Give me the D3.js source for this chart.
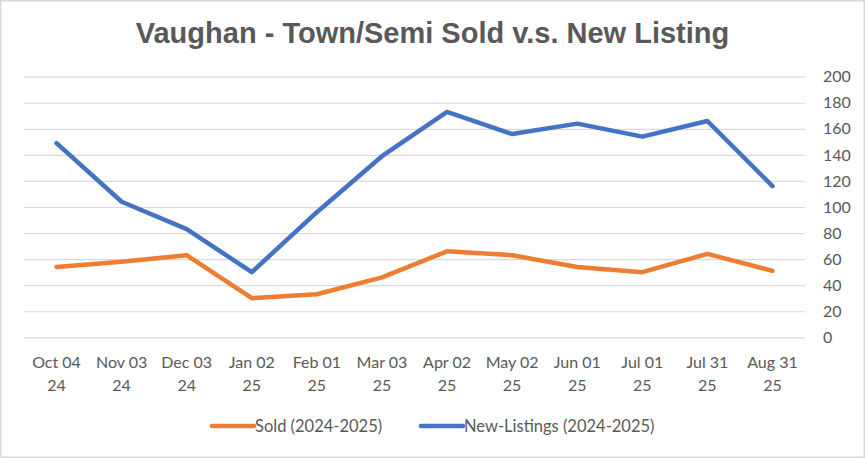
<!DOCTYPE html>
<html>
<head>
<meta charset="utf-8">
<script src="https://cdn.jsdelivr.net/npm/d3@7"></script>
<style>
  html, body { margin: 0; padding: 0; background: #fff; }
  svg { display: block; }
</style>
</head>
<body>
<svg id="chart" width="865" height="458"></svg>
<script>
// chart data
var categories = ["Oct 04\n24", "Nov 03\n24", "Dec 03\n24", "Jan 02\n25", "Feb 01\n25", "Mar 03\n25",
  "Apr 02\n25", "May 02\n25", "Jun 01\n25", "Jul 01\n25", "Jul 31\n25", "Aug 31\n25"];
var sold = [54, 58, 63, 30, 33, 46, 66, 63, 54, 50, 64, 51];
var newListings = [149, 104, 83, 50, 96, 139, 173, 156, 164, 154, 166, 116];
var yTicks = [0, 20, 40, 60, 80, 100, 120, 140, 160, 180, 200];
var seriesNames = ["Sold (2024-2025)", "New-Listings (2024-2025)"];

(function () {
  var W = 865, H = 458;
  var left = 24, right = 805, top = 76.7, bottom = 337.3;
  var grey = "#595959";
  var font = "Lato, 'Liberation Sans', Arial, sans-serif";

  var svg = d3.select("#chart");

  // outer frame
  svg.append("rect")
    .attr("x", 0.75).attr("y", 0.75)
    .attr("width", W - 1.5).attr("height", H - 1.5)
    .attr("fill", "#fff")
    .attr("stroke", "#d9d9d9")
    .attr("stroke-width", 1.5);

  var x = d3.scaleBand().domain(categories).range([left, right]);
  var y = d3.scaleLinear().domain([0, 200]).range([bottom, top]);
  var cx = function (d) { return x(d) + x.bandwidth() / 2; };

  // gridlines
  svg.append("g")
    .attr("transform", "translate(" + left + ",0)")
    .call(d3.axisLeft(y).tickValues(yTicks).tickSize(-(right - left)).tickFormat(""))
    .call(function (g) {
      g.select(".domain").remove();
      g.selectAll("line").attr("stroke", "#d9d9d9").attr("stroke-width", 1.2);
    });

  // y axis labels on the right
  svg.append("g")
    .attr("transform", "translate(" + (right + 18) + ",0)")
    .call(d3.axisRight(y).tickValues(yTicks).tickSize(0).tickPadding(0))
    .call(function (g) {
      g.select(".domain").remove();
      g.selectAll("text")
        .attr("fill", grey)
        .attr("font-family", font)
        .attr("font-size", 16)
        .attr("text-anchor", "start");
    });

  // x axis labels (two lines)
  var xl = svg.append("g").selectAll("text")
    .data(categories)
    .join("text")
    .attr("x", cx)
    .attr("y", 368)
    .attr("text-anchor", "middle")
    .attr("fill", grey)
    .attr("font-family", font)
    .attr("font-size", 16);
  xl.selectAll("tspan")
    .data(function (d) { return d.split("\n"); })
    .join("tspan")
    .attr("x", function () { return cx(d3.select(this.parentNode).datum()); })
    .attr("dy", function (d, i) { return i === 0 ? 0 : 23; })
    .text(function (d) { return d; });

  var line = d3.line()
    .x(function (d, i) { return cx(categories[i]); })
    .y(function (d) { return y(d); });

  var series = [
    { name: seriesNames[0], values: sold, color: "#ED7D31" },
    { name: seriesNames[1], values: newListings, color: "#4472C4" }
  ];

  svg.append("g").selectAll("path")
    .data(series)
    .join("path")
    .attr("d", function (s) { return line(s.values); })
    .attr("fill", "none")
    .attr("stroke", function (s) { return s.color; })
    .attr("stroke-width", 4.5)
    .attr("stroke-linejoin", "round")
    .attr("stroke-linecap", "round");

  // title
  svg.append("text")
    .attr("x", 432.5)
    .attr("y", 42.5)
    .attr("text-anchor", "middle")
    .attr("fill", grey)
    .attr("font-family", "'Liberation Sans', Arial, sans-serif")
    .attr("font-weight", "bold")
    .attr("font-size", 29)
    .text("Vaughan - Town/Semi Sold v.s. New Listing");

  // legend
  var legendX = [212, 421];
  var lg = svg.append("g").selectAll("g")
    .data(series)
    .join("g")
    .attr("transform", function (s, i) { return "translate(" + legendX[i] + ",426)"; });
  lg.append("line")
    .attr("x1", 0).attr("x2", 42)
    .attr("stroke", function (s) { return s.color; })
    .attr("stroke-width", 4.5)
    .attr("stroke-linecap", "round");
  lg.append("text")
    .attr("x", 43)
    .attr("y", 5.5)
    .attr("fill", grey)
    .attr("font-family", font)
    .attr("font-size", 16.5)
    .text(function (s) { return s.name; });
})();
</script>
</body>
</html>
